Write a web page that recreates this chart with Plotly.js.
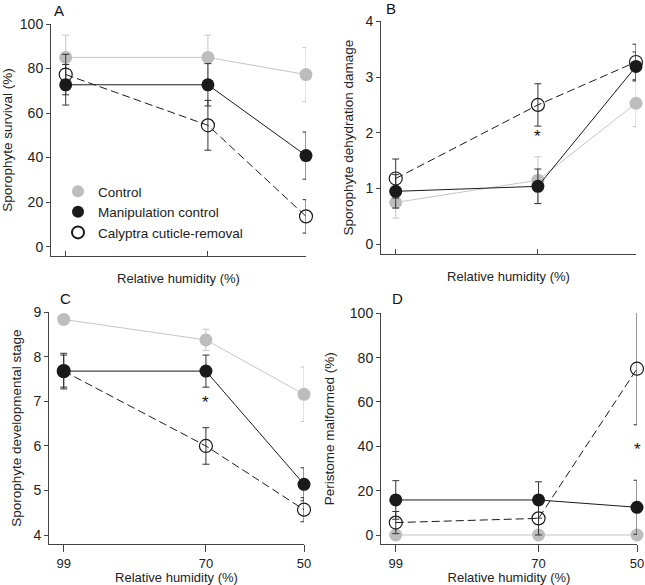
<!DOCTYPE html>
<html>
<head>
<meta charset="utf-8">
<script src="https://cdn.plot.ly/plotly-3.0.1.min.js"></script>
<style>html,body{margin:0;padding:0;background:#fff}#chart{width:645px;height:585px}</style>
</head>
<body>
<div id="chart"></div>
<script>
// ---- data ----
const rh = [99, 70, 50];
const seriesNames = ["Control", "Manipulation control", "Calyptra cuticle-removal"];

// A: Sporophyte survival (%)
const survCtrl = [85, 85, 77.3];
const survCtrlErr = [10, 10, 12.1];
const survManip = [72.7, 72.7, 40.9];
const survManipErr = [9.1, 9.5, 10.6];
const survCut = [77.3, 54.5, 13.6];
const survCutErr = [9.1, 11.2, 7.5];

// B: Sporophyte dehydration damage
const dmgCtrl = [0.75, 1.15, 2.53];
const dmgCtrlErr = [0.28, 0.42, 0.42];
const dmgManip = [0.95, 1.04, 3.19];
const dmgManipErr = [0.3, 0.31, 0.26];
const dmgCut = [1.18, 2.5, 3.27];
const dmgCutErr = [0.35, 0.38, 0.32];

// C: Sporophyte developmental stage
const devCtrl = [8.84, 8.38, 7.16];
const devCtrlErr = [0, 0.24, 0.61];
const devManip = [7.68, 7.68, 5.14];
const devManipErr = [0.4, 0.36, 0.37];
const devCut = [7.68, 6.0, 4.57];
const devCutErr = [0.36, 0.41, 0.27];

// D: Peristome malformed (%)
const perCtrl = [0, 0, 0];
const perCtrlErr = [0, 0, 0];
const perManip = [15.8, 15.8, 12.5];
const perManipErr = [8.7, 8.2, 12.2];
const perCut = [5.6, 7.5, 75];
const perCutErr = [5, 7.5, 25.3];

const xTicks = [99, 70, 50];
const xTickText = ["99", "70", "50"];
const panelLetters = ["A", "B", "C", "D"];
const yTitles = ["Sporophyte survival (%)", "Sporophyte dehydration damage",
                 "Sporophyte developmental stage", "Peristome malformed (%)"];
const xTitle = "Relative humidity (%)";
const stars = [{ax: "x2", ay: "y2", x: 70, y: 1.93}, {ax: "x3", ay: "y3", x: 70, y: 6.97}, {ax: "x4", ay: "y4", x: 50, y: 38.7}];

// ---- styles ----
const GRAY = "#bdbdbd", GRAYLINE = "#c6c6c6", BLACK = "#1a1a1a";
const FONT = "Liberation Sans, Arial, Helvetica, sans-serif";

function triple(xa, ya, ctrl, ctrlE, man, manE, cut, cutE) {
  return [
    {x: rh, y: ctrl, xaxis: xa, yaxis: ya, mode: "lines+markers", showlegend: false, cliponaxis: false,
     line: {color: GRAYLINE, width: 1}, marker: {color: GRAY, size: 13},
     error_y: {type: "data", array: ctrlE, visible: true, color: GRAYLINE, thickness: 1, width: 3.5}},
    {x: rh, y: cut, xaxis: xa, yaxis: ya, mode: "lines+markers", showlegend: false, cliponaxis: false,
     line: {color: BLACK, width: 1, dash: "8px,4px"},
     marker: {symbol: "circle-open", color: BLACK, size: 13, line: {width: 1.2, color: BLACK}},
     error_y: {type: "data", array: cutE, visible: true, color: "#333", thickness: 1, width: 3.5}},
    {x: rh, y: man, xaxis: xa, yaxis: ya, mode: "lines+markers", showlegend: false, cliponaxis: false,
     line: {color: BLACK, width: 1}, marker: {color: BLACK, size: 13},
     error_y: {type: "data", array: manE, visible: true, color: "#333", thickness: 1, width: 3.5}}
  ];
}

let data = [];
data = data.concat(triple("x", "y", survCtrl, survCtrlErr, survManip, survManipErr, survCut, survCutErr));
data = data.concat(triple("x2", "y2", dmgCtrl, dmgCtrlErr, dmgManip, dmgManipErr, dmgCut, dmgCutErr));
data = data.concat(triple("x3", "y3", devCtrl, devCtrlErr, devManip, devManipErr, devCut, devCutErr));
data = data.concat(triple("x4", "y4", perCtrl, perCtrlErr, perManip, perManipErr, perCut, perCutErr));

// legend-only entries (markers only)
data.push({x: [null], y: [null], xaxis: "x", yaxis: "y", mode: "markers", name: seriesNames[0], legendrank: 1,
           marker: {color: GRAY, size: 13}});
data.push({x: [null], y: [null], xaxis: "x", yaxis: "y", mode: "markers", name: seriesNames[1], legendrank: 2,
           marker: {color: BLACK, size: 13}});
data.push({x: [null], y: [null], xaxis: "x", yaxis: "y", mode: "markers", name: seriesNames[2], legendrank: 3,
           marker: {symbol: "circle-open", color: BLACK, size: 13, line: {width: 1.2, color: BLACK}}});

const W = 645, H = 585;
const px = v => v / W, py = v => 1 - v / H;

function xAxis(dom, anchor, bottom) {
  return {
    domain: dom, anchor: anchor, range: [102, 50], type: "linear",
    tickvals: xTicks, ticktext: xTickText, showticklabels: bottom,
    ticks: bottom ? "outside" : "inside", ticklen: bottom ? 7 : 5, tickwidth: 1, tickcolor: "#444",
    showline: true, linecolor: "#444", linewidth: 1, showgrid: false, zeroline: false,
    tickfont: {family: FONT, size: 13, color: "#222"},
    title: {text: xTitle, font: {family: FONT, size: 13, color: "#222"}, standoff: bottom ? 3 : 17}
  };
}
function yAxis(dom, anchor, range, dtick, title, standoff) {
  return {
    domain: dom, anchor: anchor, range: range, dtick: dtick, tick0: 0,
    ticks: "outside", ticklen: 4, tickwidth: 1, tickcolor: "#444",
    showline: true, linecolor: "#444", linewidth: 1, showgrid: false, zeroline: false,
    tickfont: {family: FONT, size: 14, color: "#222"},
    title: {text: title, font: {family: FONT, size: 13.5, color: "#222"}, standoff: standoff}
  };
}

const annotations = panelLetters.map((t, i) => ({
  text: t, xref: "paper", yref: "paper", showarrow: false,
  x: px([58.5, 391, 65, 397.5][i]), y: py([10, 9, 298, 298][i]),
  xanchor: "center", yanchor: "middle", font: {family: FONT, size: 15, color: "#111"}
})).concat(stars.map(s => ({
  text: "*", xref: s.ax, yref: s.ay, x: s.x, y: s.y, showarrow: false,
  xanchor: "center", yanchor: "middle", font: {family: FONT, size: 17, color: "#111"}
})));

const layout = {
  width: W, height: H, margin: {l: 0, r: 0, t: 0, b: 0},
  paper_bgcolor: "#fff", plot_bgcolor: "rgba(0,0,0,0)",
  font: {family: FONT, size: 12, color: "#222"},
  xaxis: xAxis([px(51), px(306)], "y", false),
  yaxis: yAxis([py(256), py(24)], "x", [-4.2, 100], 20, yTitles[0], 4),
  xaxis2: xAxis([px(381), px(636)], "y2", false),
  yaxis2: yAxis([py(254), py(21.3)], "x2", [-0.174, 4], 1, yTitles[1], 8),
  xaxis3: xAxis([px(49), px(304)], "y3", true),
  yaxis3: yAxis([py(544), py(312.3)], "x3", [3.8, 9], 1, yTitles[2], 8),
  xaxis4: xAxis([px(381), px(637)], "y4", true),
  yaxis4: yAxis([py(544), py(313.3)], "x4", [-4.06, 100], 20, yTitles[3], 12),
  showlegend: true,
  legend: {x: px(58), y: py(176), xanchor: "left", yanchor: "top", bgcolor: "rgba(0,0,0,0)",
           font: {family: FONT, size: 13.5, color: "#222"}, itemsizing: "constant", traceorder: "normal"},
  annotations: annotations
};

Plotly.newPlot("chart", data, layout, {displayModeBar: false, staticPlot: true});
</script>
</body>
</html>
